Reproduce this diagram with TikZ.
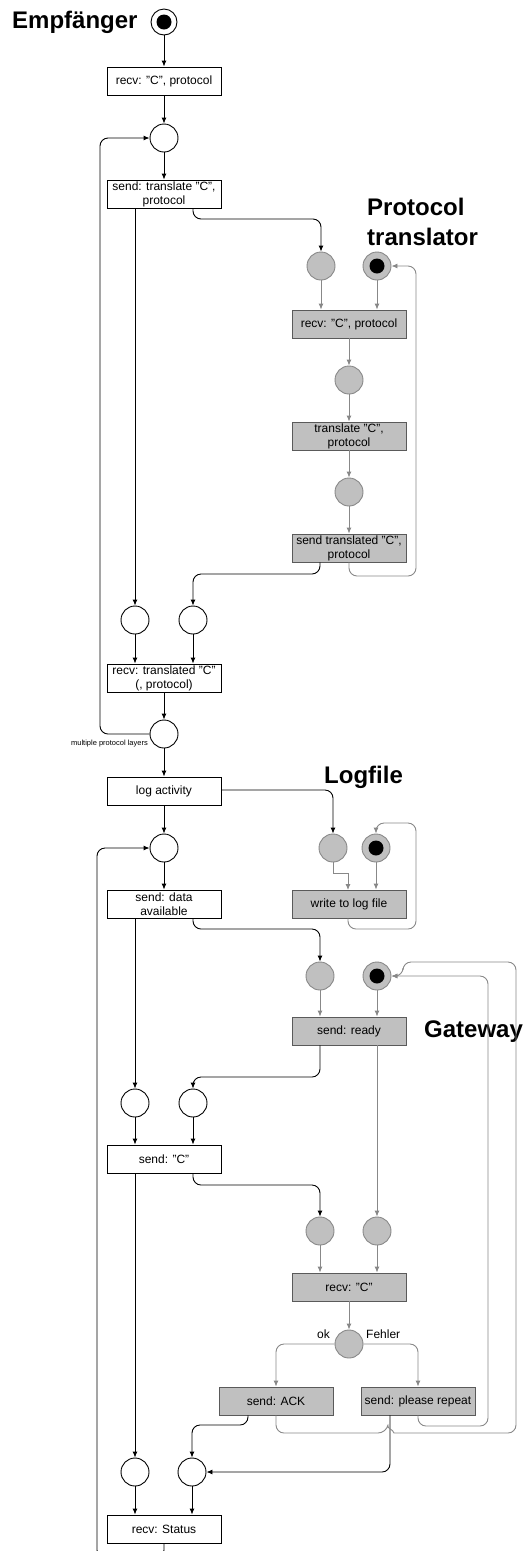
\documentclass[tikz,border=0pt]{standalone}
\usepackage{fontspec}
\setmainfont{Liberation Sans}
\usetikzlibrary{arrows.meta}
\definecolor{gfill}{HTML}{C0C0C0}
\definecolor{gline}{HTML}{888888}
\definecolor{gedge}{HTML}{5A5A5A}
\begin{document}
\begin{tikzpicture}[x=1pt,y=-1pt,
  every node/.style={font=\fontsize{12}{14}\selectfont},
  trans/.style={draw=black,fill=white,line width=0.9pt,minimum width=114pt,minimum height=28pt,inner sep=0pt,align=center},
  gtrans/.style={trans,draw=gedge,fill=gfill},
  place/.style={circle,draw=black,fill=white,line width=0.9pt,minimum size=28pt,inner sep=0pt},
  gplace/.style={place,draw=gline,fill=gfill},
  token/.style={circle,fill=black,minimum size=15pt,inner sep=0pt},
  arc/.style={line width=0.9pt,-{Latex[length=6pt,width=5pt]},rounded corners=8pt},
  garc/.style={arc,draw=gline,color=gline},
  title/.style={font=\fontsize{24}{30}\selectfont\bfseries,inner sep=0pt,anchor=west,align=left}]
\useasboundingbox (0,0) rectangle (525,1551);

% titles
\node[title] (tE) at (12,22) {Empfänger};
\node[title] (tP) at (367,222) {Protocol\\translator};
\node[title] (tL) at (324,777) {Logfile};
\node[title] (tG) at (424,1032) {Gateway};

% receiver (Empfänger)
\node[place,minimum size=26pt] (s0) at (164,22) {};
\node[token] at (s0) {};
\node[trans] (r1) at (164,81) {recv: "C", protocol};
\node[place] (p1) at (164,138) {};
\node[trans] (t1) at (164,194) {send: translate "C",\\protocol};
\node[place] (p2) at (135,620) {};
\node[place] (p3) at (193,620) {};
\node[trans] (r2) at (164,678) {recv: translated "C"\\(, protocol)};
\node[place] (p4) at (164,734) {};
\node[font=\fontsize{7.5}{9}\selectfont,anchor=east,inner sep=0pt] (ml) at (148,744) {multiple protocol layers};
\node[trans] (la) at (164,791) {log activity};
\node[place] (p5) at (164,848) {};
\node[trans] (da) at (164,904) {send: data\\available};
\node[place] (p6) at (135,1103) {};
\node[place] (p7) at (193,1103) {};
\node[trans] (sc) at (164,1159) {send: "C"};
\node[place] (p8) at (135,1472) {};
\node[place] (p9) at (192,1472) {};
\node[trans] (rs) at (164,1529) {recv: Status};

% protocol translator
\node[gplace] (g1) at (321,266) {};
\node[gplace] (g2) at (377,266) {};
\node[token] at (g2) {};
\node[gtrans] (gt1) at (349,324) {recv: "C", protocol};
\node[gplace] (g3) at (349,380) {};
\node[gtrans] (gt2) at (349,436) {translate "C",\\protocol};
\node[gplace] (g4) at (349,492) {};
\node[gtrans] (gt3) at (349,548) {send translated "C",\\protocol};

% logfile
\node[gplace] (l1) at (333,848) {};
\node[gplace] (l2) at (376,848) {};
\node[token] at (l2) {};
\node[gtrans] (lw) at (349,904) {write to log file};

% gateway
\node[gplace] (w1) at (320,976) {};
\node[gplace] (w2) at (377,976) {};
\node[token] at (w2) {};
\node[gtrans] (sr) at (349,1031) {send: ready};
\node[gplace] (w3) at (320,1231) {};
\node[gplace] (w4) at (377,1231) {};
\node[gtrans] (rc) at (349,1287) {recv: "C"};
\node[gplace] (w5) at (349,1344) {};
\node[anchor=east,inner sep=0pt] (ok) at (330,1334) {ok};
\node[anchor=west,inner sep=0pt] (fe) at (366,1334) {Fehler};
\node[gtrans] (ack) at (276,1401) {send: ACK};
\node[gtrans] (rep) at (418,1401) {send: please repeat};

% receiver arcs
\draw[arc] (s0) -- (r1);
\draw[arc] (r1) -- (p1);
\draw[arc] (p1) -- (t1);
\draw[arc] ([xshift=-29pt]t1.south) -- (p2);
\draw[arc] ([xshift=29pt]t1.south) -- (193,219) -- (321,219) -- (g1.north);
\draw[arc] ([xshift=-29pt]gt3.south) -- (320,574) -- (193,574) -- (p3.north);
\draw[arc] (p2) -- (p2 |- r2.north);
\draw[arc] (p3) -- (p3 |- r2.north);
\draw[arc] (r2) -- (p4);
\draw[arc] (p4) -- (la);
\draw[arc] (p4.west) -- (100,734) -- (100,138) -- (p1.west);
\draw[arc] (la.east |- 0,790) -- (333,790) -- (l1.north);
\draw[arc] (la) -- (p5);
\draw[arc] (p5) -- (da);
\draw[arc] ([xshift=-29pt]da.south) -- (p6);
\draw[arc] ([xshift=29pt]da.south) -- (193,929) -- (320,929) -- (w1.north);
\draw[arc] ([xshift=-29pt]sr.south) -- (320,1077) -- (193,1077) -- (p7.north);
\draw[arc] (p6) -- (p6 |- sc.north);
\draw[arc] (p7) -- (p7 |- sc.north);
\draw[arc] ([xshift=-29pt]sc.south) -- (p8);
\draw[arc] ([xshift=29pt]sc.south) -- (193,1185) -- (320,1185) -- (w3.north);
\draw[arc] ([xshift=-28pt]ack.south) -- (248,1425) -- (192,1425) -- (p9.north);
\draw[arc] ([xshift=-28pt]rep.south) -- (390,1472) -- (p9.east);
\draw[arc] (p8) -- (p8 |- rs.north);
\draw[arc] (p9) -- (p9 |- rs.north);
\draw[arc] (rs.south) -- (164,1558) -- (97,1558) -- (97,848) -- (p5.west);

% protocol translator arcs
\draw[garc] (g1) -- (g1 |- gt1.north);
\draw[garc] (g2) -- (g2 |- gt1.north);
\draw[garc] (gt1) -- (g3);
\draw[garc] (g3) -- (gt2);
\draw[garc] (gt2) -- (g4);
\draw[garc] (g4) -- (gt3);
\draw[garc] (gt3.south) -- (349,576) -- (416,576) -- (416,266) -- (g2.east);

% logfile arcs
\draw[garc,rounded corners=0pt] (l1.south) -- (333,873) -- (348,873) -- (348,890);
\draw[garc] (l2) -- (l2 |- lw.north);
\draw[garc] (lw.south -| 348,0) -- (348,929) -- (416,929) -- (416,823) -- (376,823) -- (l2.north);

% gateway arcs
\draw[garc] (w1) -- (w1 |- sr.north);
\draw[garc] (w2) -- (w2 |- sr.north);
\draw[garc] (w2 |- sr.south) -- (w4);
\draw[garc] (w3) -- (w3 |- rc.north);
\draw[garc] (w4) -- (w4 |- rc.north);
\draw[garc] (rc) -- (w5);
\draw[garc] (w5.west) -- (276,1344) -- (ack.north);
\draw[garc] (w5.east) -- (418,1344) -- (rep.north);
\draw[garc] (rep.south) -- (418,1426) -- (488,1426) -- (488,976) -- (w2.east);
\draw[garc] (ack.south) -- (276,1433) -- (386,1433) [sharp corners] .. controls (387,1429) and (393,1429) .. (394,1433) [rounded corners=8pt] -- (516,1433) -- (516,962) -- (403,962) -- (403,976) -- (w2.east);
\end{tikzpicture}
\end{document}
